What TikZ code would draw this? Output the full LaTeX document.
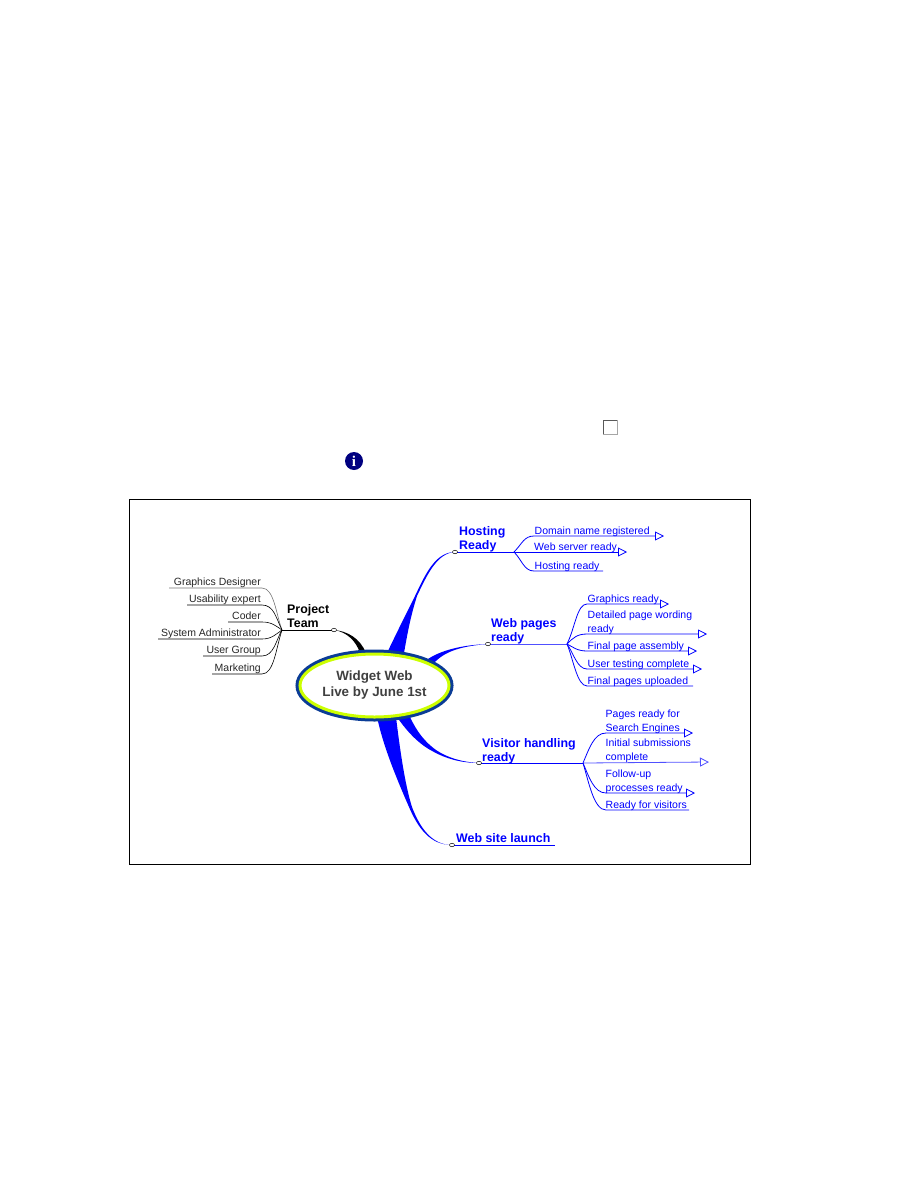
\documentclass[tikz,border=0pt]{standalone}
\usepackage{fontspec}
\usepackage{xcolor}
\setmainfont{Liberation Sans}
\newfontfamily\iconfont{Liberation Serif}
\usetikzlibrary{arrows.meta,shapes.geometric}
\definecolor{rimblue}{HTML}{0A3C96}
\definecolor{rimyellow}{HTML}{CCFF00}
\definecolor{softblue}{HTML}{5050FF}
\definecolor{infonavy}{HTML}{000080}
\begin{document}
\begin{tikzpicture}[x=1pt,y=-1pt,
    leaf/.style={font=\fontsize{10.5}{13.5}\selectfont,text=blue,align=left,anchor=south west,inner sep=0pt,text depth=1.5pt},
    teamleaf/.style={font=\fontsize{10.5}{13.5}\selectfont,text=black!85,anchor=south east,inner sep=0pt,text depth=2pt},
    branch/.style={font=\bfseries\fontsize{12.4}{14}\selectfont,text=blue,align=left,anchor=south west,inner sep=0pt,text depth=2.5pt},
    knob/.style={ellipse,draw=black,fill=white,line width=0.5pt,minimum width=5pt,minimum height=3.5pt,inner sep=0pt},
    twig/.style={blue,line width=0.8pt},
    arrowtwig/.style={blue,line width=0.8pt,-{Triangle[open,length=9pt,width=9pt]}},
    teamtwig/.style={black,line width=0.6pt}]
    \useasboundingbox (0,0) rectangle (918,1188);

    % frame
    \node[draw=black,line width=0.7pt,minimum width=621.5pt,minimum height=365.5pt,inner sep=0pt] (frame) at (440,682) {};

    % icons
    \draw[fill=white,draw=black!65,line width=1pt] (603,420) rectangle (617.5,434.5);
    \draw[black!35,line width=1pt] (617.5,420) -- (617.5,434.5) -- (603,434.5);
    \node[circle,fill=infonavy,text=white,minimum size=18pt,inner sep=0pt,font=\iconfont\bfseries\fontsize{15}{15}\selectfont] (info) at (354,461) {i};

    % knobs and ends of the wide branches
    \coordinate (teamA) at (360,653);
    \coordinate (teamB) at (366,653);
    \coordinate (hostA) at (387,653);
    \coordinate (hostB) at (404,653);
    \coordinate (pagesA) at (428,659);
    \coordinate (pagesB) at (434,663);
    \coordinate (visitA) at (397,717);
    \coordinate (visitB) at (410,717);
    \coordinate (launchA) at (377,717);
    \coordinate (launchB) at (396,717);
    \coordinate (teamknob) at (334,630);
    \coordinate (hostknob) at (455,552);
    \coordinate (pagesknob) at (488,644);
    \coordinate (visitknob) at (479,763);
    \coordinate (launchknob) at (452,845);

    % wide branches
    \fill[black] (teamA) .. controls (356,641) and (347,632) .. (teamknob) .. controls (347,631) and (360,638) .. (teamB) -- cycle;
    \fill[blue] (hostA) .. controls (398,630) and (407,612) .. (415,596) .. controls (425,575) and (435,552) .. (hostknob) .. controls (437,553) and (427,575) .. (417,596) .. controls (411,615) and (408,630) .. (hostB) -- cycle;
    \fill[blue] (pagesA) .. controls (440,651) and (460,645) .. (pagesknob) .. controls (462,646) and (445,651) .. (pagesB) -- cycle;
    \fill[blue] (visitA) .. controls (408,733) and (420,745) .. (434,752) .. controls (445,758) and (460,763) .. (visitknob) .. controls (462,762) and (448,758) .. (436,750) .. controls (425,742) and (417,732) .. (visitB) -- cycle;
    \fill[blue] (launchA) .. controls (383,745) and (395,775) .. (409,807) .. controls (418,828) and (430,845) .. (launchknob) .. controls (432,845) and (420,828) .. (412,807) .. controls (405,785) and (400,750) .. (launchB) -- cycle;

    % centre
    \node[ellipse,fill=white,draw=rimyellow,line width=3pt,preaction={draw=rimblue,line width=9pt},minimum width=149pt,minimum height=63pt,inner sep=0pt,align=center,text=black!75,font=\bfseries\fontsize{13.4}{16}\selectfont] (centre) at (374.5,685.5) {Widget Web\\Live by June 1st};

    % project team
    \coordinate (teamhub) at (282,630);
    \draw[black,line width=0.7pt] (teamknob) -- (teamhub);
    \node[branch,text=black] (team) at (287,630) {Project\\Team};
    \coordinate (gdS) at (262,588);
    \coordinate (gdE) at (169,588);
    \coordinate (ueS) at (262,605);
    \coordinate (ueE) at (187,605);
    \coordinate (coS) at (262,622);
    \coordinate (coE) at (228,622);
    \coordinate (saS) at (262,639);
    \coordinate (saE) at (158,639);
    \coordinate (ugS) at (262,656);
    \coordinate (ugE) at (203,656);
    \coordinate (maS) at (262,674);
    \coordinate (maE) at (212,674);
    \draw[teamtwig,black!55] (teamhub) .. controls +(-6,-16) and +(12,0) .. (gdS) -- (gdE);
    \draw[teamtwig] (teamhub) .. controls +(-6,-12) and +(12,0) .. (ueS) -- (ueE);
    \draw[teamtwig] (teamhub) .. controls +(-6,-4) and +(10,0) .. (coS) -- (coE);
    \draw[teamtwig] (teamhub) .. controls +(-6,4) and +(10,0) .. (saS) -- (saE);
    \draw[teamtwig] (teamhub) .. controls +(-6,10) and +(12,0) .. (ugS) -- (ugE);
    \draw[teamtwig] (teamhub) .. controls +(-6,18) and +(12,0) .. (maS) -- (maE);
    \node[teamleaf] (gd) at (261,588) {Graphics Designer};
    \node[teamleaf] (ue) at (261,605) {Usability expert};
    \node[teamleaf] (co) at (261,622) {Coder};
    \node[teamleaf] (sa) at (261,639) {System Administrator};
    \node[teamleaf] (ug) at (261,656) {User Group};
    \node[teamleaf] (ma) at (261,674) {Marketing};

    % hosting ready
    \coordinate (hosthub) at (514,552);
    \draw[twig] (hostknob) -- (hosthub);
    \node[branch] (host) at (459,552) {Hosting\\Ready};
    \coordinate (dnS) at (534,536);
    \coordinate (dnE) at (664,536);
    \coordinate (wsE) at (627,552);
    \coordinate (hrS) at (534,571);
    \coordinate (hrE) at (603,571);
    \draw[arrowtwig] (hosthub) .. controls +(8,-8) and +(-10,0) .. (dnS) -- (dnE);
    \draw[arrowtwig] (hosthub) -- (wsE);
    \draw[twig] (hosthub) .. controls +(8,8) and +(-10,0) .. (hrS) -- (hrE);
    \node[leaf] (dn) at (534.5,536) {Domain name registered};
    \node[leaf] (ws) at (534,552) {Web server ready};
    \node[leaf] (hr) at (534.5,571) {Hosting ready};

    % web pages ready
    \coordinate (pageshub) at (567,644);
    \draw[softblue,line width=0.8pt] (pagesknob) -- (pageshub);
    \node[branch] (pages) at (491,644) {Web pages\\ready};
    \coordinate (grS) at (587,604);
    \coordinate (grE) at (669,604);
    \coordinate (dpS) at (587,634);
    \coordinate (dpE) at (707,634);
    \coordinate (faS) at (587,651);
    \coordinate (faE) at (697,651);
    \coordinate (utS) at (587,669);
    \coordinate (utE) at (702,669);
    \coordinate (fuS) at (587,686);
    \coordinate (fuE) at (693,686);
    \draw[arrowtwig] (pageshub) .. controls +(8,-16) and +(-10,0) .. (grS) -- (grE);
    \draw[arrowtwig] (pageshub) .. controls +(6,-6) and +(-10,0) .. (dpS) -- (dpE);
    \draw[arrowtwig] (pageshub) .. controls +(6,3) and +(-10,0) .. (faS) -- (faE);
    \draw[arrowtwig] (pageshub) .. controls +(6,8) and +(-10,0) .. (utS) -- (utE);
    \draw[twig] (pageshub) .. controls +(6,14) and +(-10,0) .. (fuS) -- (fuE);
    \node[leaf] (gr) at (587.5,604) {Graphics ready};
    \node[leaf] (dp) at (587.5,634) {Detailed page wording\\ready};
    \node[leaf] (fa) at (587.5,651) {Final page assembly};
    \node[leaf] (ut) at (587.5,669) {User testing complete};
    \node[leaf] (fu) at (587.5,686) {Final pages uploaded};

    % visitor handling ready
    \coordinate (visithub) at (583,763);
    \draw[twig] (visitknob) -- (visithub);
    \node[branch] (visit) at (482,764) {Visitor handling\\ready};
    \coordinate (psS) at (606,733);
    \coordinate (psE) at (693,733);
    \coordinate (isE) at (709,762);
    \coordinate (fpS) at (606,793);
    \coordinate (fpE) at (695,793);
    \coordinate (rvS) at (606,810);
    \coordinate (rvE) at (689,810);
    \draw[arrowtwig] (visithub) .. controls +(6,-14) and +(-12,0) .. (psS) -- (psE);
    \draw[arrowtwig,softblue] (visithub) -- (isE);
    \draw[arrowtwig] (visithub) .. controls +(6,14) and +(-12,0) .. (fpS) -- (fpE);
    \draw[twig] (visithub) .. controls +(6,20) and +(-12,0) .. (rvS) -- (rvE);
    \node[leaf] (ps) at (605.5,733) {Pages ready for\\Search Engines};
    \node[leaf] (is) at (605.5,762) {Initial submissions\\complete};
    \node[leaf] (fp) at (605.5,793) {Follow-up\\processes ready};
    \node[leaf] (rv) at (605.5,810) {Ready for visitors};

    % web site launch
    \coordinate (launchE) at (555,845);
    \draw[twig] (launchknob) -- (launchE);
    \node[branch] (launch) at (456,845) {Web site launch};

    % knobs on top
    \node[knob] (teamdot) at (teamknob) {};
    \node[knob] (hostdot) at (hostknob) {};
    \node[knob] (pagesdot) at (pagesknob) {};
    \node[knob] (visitdot) at (visitknob) {};
    \node[knob] (launchdot) at (launchknob) {};
\end{tikzpicture}
\end{document}
